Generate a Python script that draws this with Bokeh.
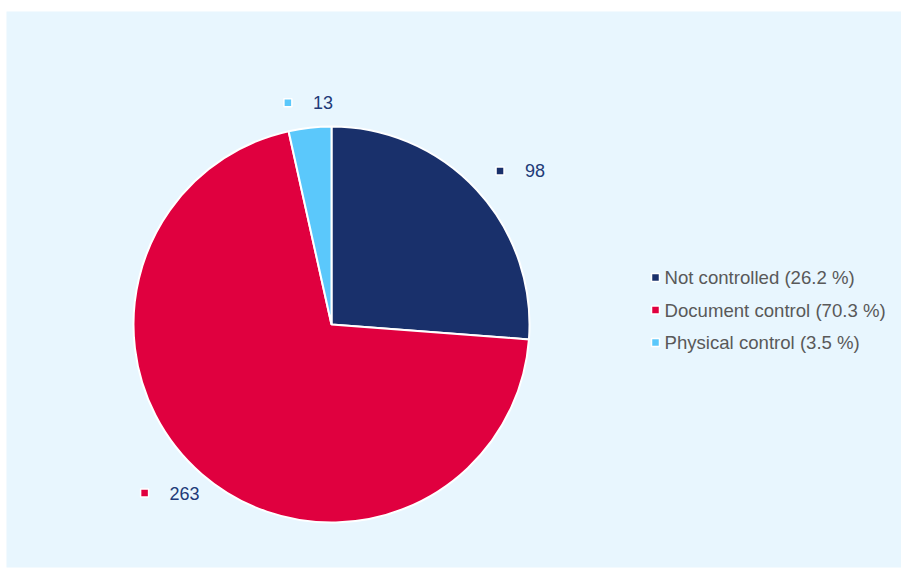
import numpy as np
from bokeh.plotting import figure
from bokeh.models import Range1d, ColumnDataSource
from bokeh.core.properties import value
from bokeh.embed import file_html
from bokeh.resources import INLINE

categories = ["Not controlled", "Document control", "Physical control"]
counts = [98, 263, 13]
colors = ["#19306B", "#E0003F", "#5BC8FB"]

W, H = 901, 568
BG = "#E8F6FE"
FONT = "Liberation Sans"

p = figure(width=W, height=H, output_backend="svg", toolbar_location=None,
           x_range=Range1d(6, 901), y_range=Range1d(3, 559),
           min_border_left=6, min_border_top=11, min_border_right=0,
           min_border_bottom=1)
p.axis.visible = False
p.grid.visible = False
p.outline_line_color = None
p.background_fill_color = BG
p.border_fill_color = "white"

cx, cy, R = 331, 246, 198
vals = np.array(counts, dtype=float)
total = vals.sum()
frac = vals / total
cum = np.concatenate([[0], np.cumsum(frac)])
start = np.pi / 2 - cum[:-1] * 2 * np.pi
end = np.pi / 2 - cum[1:] * 2 * np.pi
mid = (start + end) / 2

src = ColumnDataSource(dict(start=start, end=end, color=colors))
p.wedge(x=cx, y=cy, radius=R, start_angle="start", end_angle="end",
        direction="clock", fill_color="color", line_color="white",
        line_width=2, source=src)

# data labels placed along slice mid-angles
lr = 223
lx, ly, tx = [], [], []
labels = [str(c) for c in counts]
for m, lab in zip(mid, labels):
    c = np.cos(m)
    ax = cx + lr * c
    ay = cy + lr * np.sin(m)
    if c < 0:
        ax = ax - (15 + 39.5 * abs(c))
    else:
        ax = ax + 5
        ay = ay + 2
    lx.append(ax)
    ly.append(ay)
    tx.append(ax + 25)
p.scatter(x=lx, y=ly, marker="square", size=8, fill_color=colors,
          line_color="white", line_width=1.5)
p.text(x=tx, y=ly, text=labels, text_font=value(FONT), text_font_size="18px",
       text_color="#213A78", text_baseline="middle", text_align="left")

# legend
pct = [f"{c} ({f*100:.1f} %)" for c, f in zip(categories, frac)]
gx = 655
gy = [293 - i * 32.5 for i in range(len(categories))]
p.scatter(x=[gx] * len(gy), y=gy, marker="square", size=8, fill_color=colors,
          line_color="white", line_width=1.5)
p.text(x=[gx + 9] * len(gy), y=gy, text=pct, text_font=value(FONT),
       text_font_size="18.6px", text_color="#595959", text_baseline="middle",
       text_align="left")

open("out.html", "w").write(file_html(p, INLINE))
